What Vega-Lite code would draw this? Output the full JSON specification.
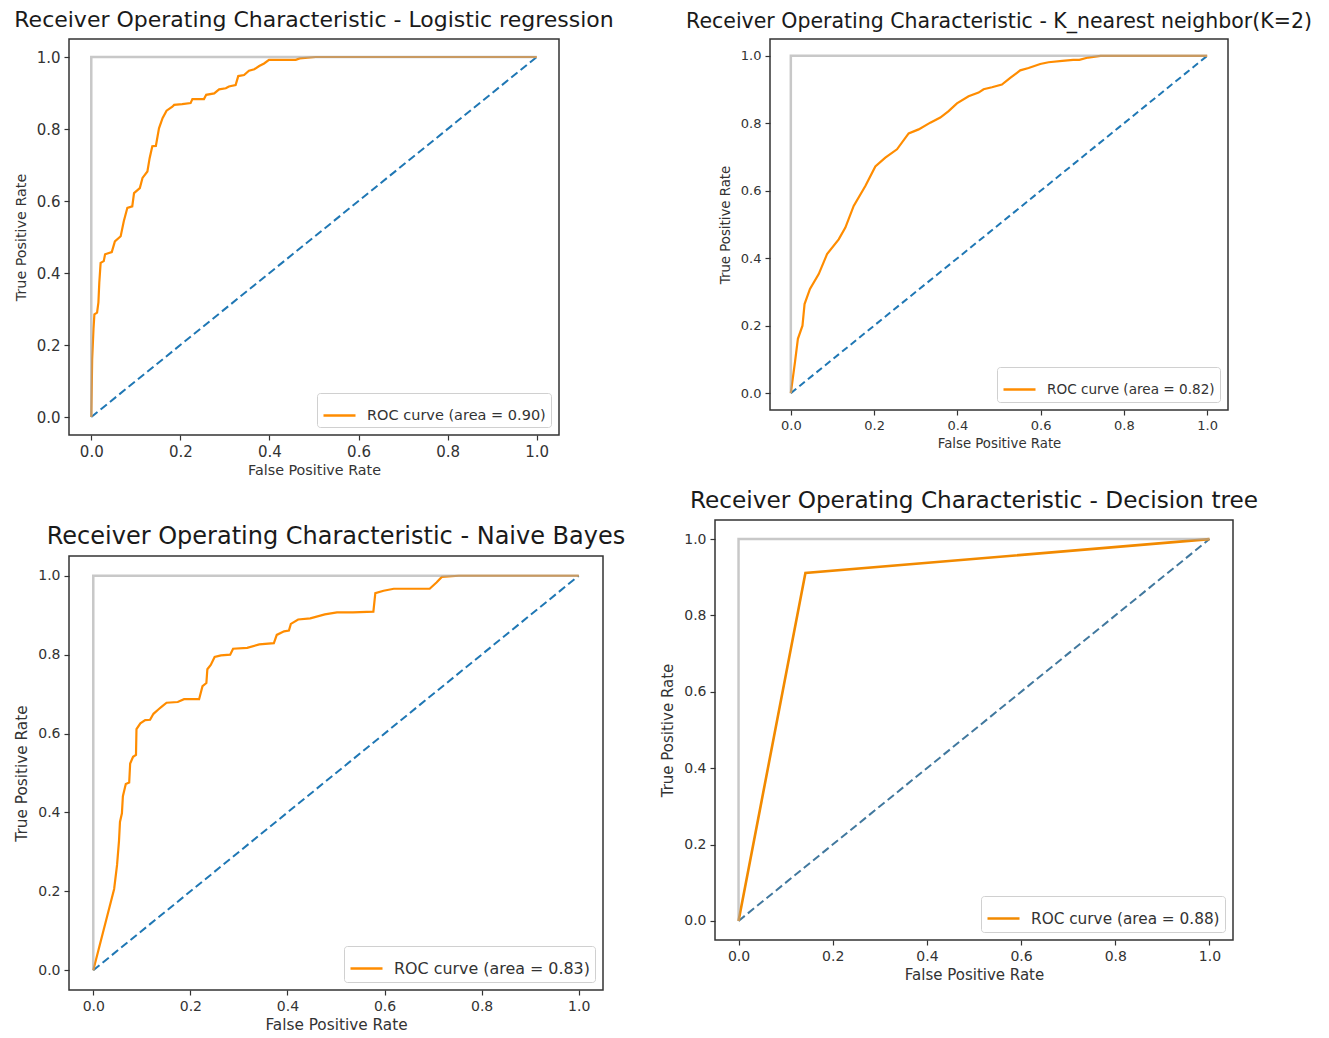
{
  "$schema": "https://vega.github.io/schema/vega-lite/v6.json",
  "background": "white",
  "padding": {"left": 13, "top": 8, "right": 5, "bottom": 5},
  "config": {
    "font": "DejaVu Sans",
    "view": {"stroke": "#333333", "strokeWidth": 1.5},
    "axis": {
      "domain": false, "grid": false, "tickColor": "#333333", "tickSize": 5, "tickWidth": 1.2,
      "labelColor": "#333333", "titleColor": "#333333", "titleFontWeight": "normal",
      "labelFont": "DejaVu Sans", "titleFont": "DejaVu Sans",
      "format": ".1f", "labelFlush": false, "labelOverlap": false, "labelPadding": 4
    },
    "axisX": {"titlePadding": 4},
    "axisY": {"titlePadding": 8},
    "title": {"fontWeight": "normal", "color": "#1a1a1a", "anchor": "middle", "font": "DejaVu Sans", "baseline": "bottom"},
    "legend": {
      "orient": "bottom-right", "offset": 8, "title": null, "symbolType": "stroke", "symbolStrokeWidth": 2.5,
      "symbolSize": 1024, "strokeColor": "#d0d0d0", "fillColor": "white", "padding": 5, "cornerRadius": 3,
      "labelOffset": 10, "labelColor": "#333333", "labelFont": "DejaVu Sans", "labelLimit": 400
    }
  },
  "datasets": {
    "perfect": [{"i": 0, "fpr": 0, "tpr": 0}, {"i": 1, "fpr": 0, "tpr": 1}, {"i": 2, "fpr": 1, "tpr": 1}],
    "chance": [{"i": 0, "fpr": 0, "tpr": 0}, {"i": 1, "fpr": 1, "tpr": 1}],
    "lr": [
      {"i": 0, "fpr": 0, "tpr": 0}, {"i": 1, "fpr": 0.002, "tpr": 0.16}, {"i": 2, "fpr": 0.005, "tpr": 0.245},
      {"i": 3, "fpr": 0.007, "tpr": 0.285}, {"i": 4, "fpr": 0.013, "tpr": 0.29}, {"i": 5, "fpr": 0.016, "tpr": 0.318},
      {"i": 6, "fpr": 0.018, "tpr": 0.373}, {"i": 7, "fpr": 0.021, "tpr": 0.428}, {"i": 8, "fpr": 0.028, "tpr": 0.433},
      {"i": 9, "fpr": 0.031, "tpr": 0.452}, {"i": 10, "fpr": 0.046, "tpr": 0.458}, {"i": 11, "fpr": 0.053, "tpr": 0.488},
      {"i": 12, "fpr": 0.066, "tpr": 0.502}, {"i": 13, "fpr": 0.073, "tpr": 0.544}, {"i": 14, "fpr": 0.081, "tpr": 0.581},
      {"i": 15, "fpr": 0.092, "tpr": 0.585}, {"i": 16, "fpr": 0.096, "tpr": 0.622}, {"i": 17, "fpr": 0.109, "tpr": 0.636},
      {"i": 18, "fpr": 0.115, "tpr": 0.664}, {"i": 19, "fpr": 0.126, "tpr": 0.682}, {"i": 20, "fpr": 0.131, "tpr": 0.719},
      {"i": 21, "fpr": 0.137, "tpr": 0.752}, {"i": 22, "fpr": 0.145, "tpr": 0.753}, {"i": 23, "fpr": 0.152, "tpr": 0.802},
      {"i": 24, "fpr": 0.16, "tpr": 0.83}, {"i": 25, "fpr": 0.169, "tpr": 0.851}, {"i": 26, "fpr": 0.182, "tpr": 0.862},
      {"i": 27, "fpr": 0.186, "tpr": 0.867}, {"i": 28, "fpr": 0.204, "tpr": 0.869}, {"i": 29, "fpr": 0.223, "tpr": 0.872},
      {"i": 30, "fpr": 0.227, "tpr": 0.883}, {"i": 31, "fpr": 0.253, "tpr": 0.883}, {"i": 32, "fpr": 0.258, "tpr": 0.895},
      {"i": 33, "fpr": 0.276, "tpr": 0.899}, {"i": 34, "fpr": 0.287, "tpr": 0.91}, {"i": 35, "fpr": 0.302, "tpr": 0.913},
      {"i": 36, "fpr": 0.309, "tpr": 0.918}, {"i": 37, "fpr": 0.324, "tpr": 0.922}, {"i": 38, "fpr": 0.33, "tpr": 0.947},
      {"i": 39, "fpr": 0.343, "tpr": 0.95}, {"i": 40, "fpr": 0.354, "tpr": 0.962}, {"i": 41, "fpr": 0.366, "tpr": 0.966},
      {"i": 42, "fpr": 0.377, "tpr": 0.975}, {"i": 43, "fpr": 0.388, "tpr": 0.982}, {"i": 44, "fpr": 0.399, "tpr": 0.992},
      {"i": 45, "fpr": 0.459, "tpr": 0.992}, {"i": 46, "fpr": 0.468, "tpr": 0.996}, {"i": 47, "fpr": 0.504, "tpr": 1.0},
      {"i": 48, "fpr": 1.0, "tpr": 1.0}
    ],
    "knn": [
      {"i": 0, "fpr": 0, "tpr": 0}, {"i": 1, "fpr": 0.01, "tpr": 0.092}, {"i": 2, "fpr": 0.017, "tpr": 0.161},
      {"i": 3, "fpr": 0.028, "tpr": 0.2}, {"i": 4, "fpr": 0.033, "tpr": 0.264}, {"i": 5, "fpr": 0.046, "tpr": 0.309},
      {"i": 6, "fpr": 0.067, "tpr": 0.353}, {"i": 7, "fpr": 0.087, "tpr": 0.412}, {"i": 8, "fpr": 0.115, "tpr": 0.456},
      {"i": 9, "fpr": 0.131, "tpr": 0.491}, {"i": 10, "fpr": 0.151, "tpr": 0.555}, {"i": 11, "fpr": 0.179, "tpr": 0.614},
      {"i": 12, "fpr": 0.203, "tpr": 0.672}, {"i": 13, "fpr": 0.227, "tpr": 0.698}, {"i": 14, "fpr": 0.255, "tpr": 0.723},
      {"i": 15, "fpr": 0.283, "tpr": 0.77}, {"i": 16, "fpr": 0.307, "tpr": 0.782}, {"i": 17, "fpr": 0.335, "tpr": 0.802},
      {"i": 18, "fpr": 0.359, "tpr": 0.817}, {"i": 19, "fpr": 0.379, "tpr": 0.836}, {"i": 20, "fpr": 0.399, "tpr": 0.859},
      {"i": 21, "fpr": 0.427, "tpr": 0.88}, {"i": 22, "fpr": 0.451, "tpr": 0.891}, {"i": 23, "fpr": 0.463, "tpr": 0.901},
      {"i": 24, "fpr": 0.483, "tpr": 0.907}, {"i": 25, "fpr": 0.507, "tpr": 0.915}, {"i": 26, "fpr": 0.527, "tpr": 0.935},
      {"i": 27, "fpr": 0.551, "tpr": 0.957}, {"i": 28, "fpr": 0.571, "tpr": 0.964}, {"i": 29, "fpr": 0.599, "tpr": 0.976},
      {"i": 30, "fpr": 0.619, "tpr": 0.981}, {"i": 31, "fpr": 0.652, "tpr": 0.985}, {"i": 32, "fpr": 0.678, "tpr": 0.988},
      {"i": 33, "fpr": 0.693, "tpr": 0.988}, {"i": 34, "fpr": 0.714, "tpr": 0.995}, {"i": 35, "fpr": 0.744, "tpr": 1.0},
      {"i": 36, "fpr": 1.0, "tpr": 1.0}
    ],
    "nb": [
      {"i": 0, "fpr": 0, "tpr": 0}, {"i": 1, "fpr": 0.043, "tpr": 0.206}, {"i": 2, "fpr": 0.049, "tpr": 0.267},
      {"i": 3, "fpr": 0.053, "tpr": 0.328}, {"i": 4, "fpr": 0.055, "tpr": 0.376}, {"i": 5, "fpr": 0.059, "tpr": 0.398},
      {"i": 6, "fpr": 0.061, "tpr": 0.441}, {"i": 7, "fpr": 0.067, "tpr": 0.472}, {"i": 8, "fpr": 0.074, "tpr": 0.476},
      {"i": 9, "fpr": 0.076, "tpr": 0.524}, {"i": 10, "fpr": 0.082, "tpr": 0.541}, {"i": 11, "fpr": 0.088, "tpr": 0.546},
      {"i": 12, "fpr": 0.089, "tpr": 0.611}, {"i": 13, "fpr": 0.097, "tpr": 0.626}, {"i": 14, "fpr": 0.107, "tpr": 0.634},
      {"i": 15, "fpr": 0.117, "tpr": 0.635}, {"i": 16, "fpr": 0.124, "tpr": 0.65}, {"i": 17, "fpr": 0.134, "tpr": 0.661},
      {"i": 18, "fpr": 0.141, "tpr": 0.668}, {"i": 19, "fpr": 0.151, "tpr": 0.678}, {"i": 20, "fpr": 0.174, "tpr": 0.68},
      {"i": 21, "fpr": 0.187, "tpr": 0.687}, {"i": 22, "fpr": 0.218, "tpr": 0.687}, {"i": 23, "fpr": 0.225, "tpr": 0.72},
      {"i": 24, "fpr": 0.233, "tpr": 0.728}, {"i": 25, "fpr": 0.235, "tpr": 0.763}, {"i": 26, "fpr": 0.242, "tpr": 0.774},
      {"i": 27, "fpr": 0.25, "tpr": 0.794}, {"i": 28, "fpr": 0.263, "tpr": 0.798}, {"i": 29, "fpr": 0.282, "tpr": 0.8},
      {"i": 30, "fpr": 0.288, "tpr": 0.815}, {"i": 31, "fpr": 0.317, "tpr": 0.817}, {"i": 32, "fpr": 0.342, "tpr": 0.826},
      {"i": 33, "fpr": 0.372, "tpr": 0.829}, {"i": 34, "fpr": 0.378, "tpr": 0.85}, {"i": 35, "fpr": 0.393, "tpr": 0.859},
      {"i": 36, "fpr": 0.403, "tpr": 0.861}, {"i": 37, "fpr": 0.407, "tpr": 0.878}, {"i": 38, "fpr": 0.422, "tpr": 0.889},
      {"i": 39, "fpr": 0.447, "tpr": 0.892}, {"i": 40, "fpr": 0.477, "tpr": 0.902}, {"i": 41, "fpr": 0.502, "tpr": 0.907},
      {"i": 42, "fpr": 0.535, "tpr": 0.907}, {"i": 43, "fpr": 0.577, "tpr": 0.909}, {"i": 44, "fpr": 0.581, "tpr": 0.956},
      {"i": 45, "fpr": 0.598, "tpr": 0.962}, {"i": 46, "fpr": 0.619, "tpr": 0.967}, {"i": 47, "fpr": 0.693, "tpr": 0.967},
      {"i": 48, "fpr": 0.707, "tpr": 0.983}, {"i": 49, "fpr": 0.718, "tpr": 0.997}, {"i": 50, "fpr": 0.753, "tpr": 1.0},
      {"i": 51, "fpr": 1.0, "tpr": 1.0}
    ],
    "dt": [{"i": 0, "fpr": 0, "tpr": 0}, {"i": 1, "fpr": 0.142, "tpr": 0.911}, {"i": 2, "fpr": 1, "tpr": 1}]
  },
  "spacing": 9,
  "resolve": {"scale": {"color": "independent"}},
  "vconcat": [
    {
      "spacing": 70,
      "resolve": {"scale": {"color": "independent"}},
      "hconcat": [
        {
          "width": 490, "height": 396,
          "title": {"text": "Receiver Operating Characteristic - Logistic regression", "fontSize": 22, "offset": 7},
          "encoding": {
            "x": {"field": "fpr", "type": "quantitative", "scale": {"domain": [-0.05, 1.05], "nice": false, "zero": false},
                  "axis": {"title": "False Positive Rate", "values": [0, 0.2, 0.4, 0.6, 0.8, 1], "labelFontSize": 15, "titleFontSize": 14.3}},
            "y": {"field": "tpr", "type": "quantitative", "scale": {"domain": [-0.05, 1.05], "nice": false, "zero": false},
                  "axis": {"title": "True Positive Rate", "values": [0, 0.2, 0.4, 0.6, 0.8, 1], "labelFontSize": 15, "titleFontSize": 14.3}},
            "order": {"field": "i", "type": "quantitative"}
          },
          "layer": [
            {"data": {"name": "chance"}, "mark": {"type": "line", "color": "#1f77b4", "strokeWidth": 2, "strokeDash": [8, 4]}},
            {"data": {"name": "lr"}, "mark": {"type": "line", "strokeWidth": 2.2},
             "encoding": {"color": {"datum": "ROC curve (area = 0.90)", "scale": {"range": ["#ff8c00"]}, "legend": {"labelFontSize": 14.5}}}},
            {"data": {"name": "perfect"}, "mark": {"type": "line", "color": "#a3a3a3", "strokeWidth": 2.5, "opacity": 0.6}}
          ]
        },
        {
          "width": 458, "height": 371,
          "title": {"text": "Receiver Operating Characteristic - K_nearest neighbor(K=2)", "fontSize": 20.5, "offset": 7},
          "encoding": {
            "x": {"field": "fpr", "type": "quantitative", "scale": {"domain": [-0.05, 1.05], "nice": false, "zero": false},
                  "axis": {"title": "False Positive Rate", "values": [0, 0.2, 0.4, 0.6, 0.8, 1], "labelFontSize": 13, "titleFontSize": 13.3}},
            "y": {"field": "tpr", "type": "quantitative", "scale": {"domain": [-0.05, 1.05], "nice": false, "zero": false},
                  "axis": {"title": "True Positive Rate", "values": [0, 0.2, 0.4, 0.6, 0.8, 1], "labelFontSize": 13, "titleFontSize": 13.3}},
            "order": {"field": "i", "type": "quantitative"}
          },
          "layer": [
            {"data": {"name": "chance"}, "mark": {"type": "line", "color": "#1f77b4", "strokeWidth": 2, "strokeDash": [7, 4]}},
            {"data": {"name": "knn"}, "mark": {"type": "line", "strokeWidth": 2.2},
             "encoding": {"color": {"datum": "ROC curve (area = 0.82)", "scale": {"range": ["#ff8c00"]}, "legend": {"labelFontSize": 13.6}}}},
            {"data": {"name": "perfect"}, "mark": {"type": "line", "color": "#a3a3a3", "strokeWidth": 2.5, "opacity": 0.6}}
          ]
        }
      ]
    },
    {
      "spacing": 33,
      "resolve": {"scale": {"color": "independent"}},
      "hconcat": [
        {
          "spacing": 0,
          "resolve": {"scale": {"color": "independent"}},
          "vconcat": [
            {"width": 1, "height": 4, "view": {"stroke": null}, "data": {"values": []}, "mark": "text", "encoding": {}},
            {
              "width": 534, "height": 434,
              "title": {"text": "Receiver Operating Characteristic - Naive Bayes", "fontSize": 24, "offset": 7},
              "encoding": {
                "x": {"field": "fpr", "type": "quantitative", "scale": {"domain": [-0.05, 1.05], "nice": false, "zero": false},
                      "axis": {"title": "False Positive Rate", "values": [0, 0.2, 0.4, 0.6, 0.8, 1], "labelFontSize": 14, "titleFontSize": 15.3}},
                "y": {"field": "tpr", "type": "quantitative", "scale": {"domain": [-0.05, 1.05], "nice": false, "zero": false},
                      "axis": {"title": "True Positive Rate", "values": [0, 0.2, 0.4, 0.6, 0.8, 1], "labelFontSize": 14, "titleFontSize": 15.3}},
                "order": {"field": "i", "type": "quantitative"}
              },
              "layer": [
                {"data": {"name": "chance"}, "mark": {"type": "line", "color": "#1f77b4", "strokeWidth": 2, "strokeDash": [8, 4]}},
                {"data": {"name": "nb"}, "mark": {"type": "line", "strokeWidth": 2.2},
                 "encoding": {"color": {"datum": "ROC curve (area = 0.83)", "scale": {"range": ["#ff8c00"]}, "legend": {"labelFontSize": 15.9}}}},
                {"data": {"name": "perfect"}, "mark": {"type": "line", "color": "#a3a3a3", "strokeWidth": 2.5, "opacity": 0.6}}
              ]
            }
          ]
        },
        {
          "width": 518, "height": 420,
          "title": {"text": "Receiver Operating Characteristic - Decision tree", "fontSize": 23.2, "offset": 7},
          "encoding": {
            "x": {"field": "fpr", "type": "quantitative", "scale": {"domain": [-0.05, 1.05], "nice": false, "zero": false},
                  "axis": {"title": "False Positive Rate", "values": [0, 0.2, 0.4, 0.6, 0.8, 1], "labelFontSize": 14, "titleFontSize": 15}},
            "y": {"field": "tpr", "type": "quantitative", "scale": {"domain": [-0.05, 1.05], "nice": false, "zero": false},
                  "axis": {"title": "True Positive Rate", "values": [0, 0.2, 0.4, 0.6, 0.8, 1], "labelFontSize": 14, "titleFontSize": 15}},
            "order": {"field": "i", "type": "quantitative"}
          },
          "layer": [
            {"data": {"name": "chance"}, "mark": {"type": "line", "color": "#41789e", "strokeWidth": 2, "strokeDash": [8, 4]}},
            {"data": {"name": "dt"}, "mark": {"type": "line", "strokeWidth": 2.6},
             "encoding": {"color": {"datum": "ROC curve (area = 0.88)", "scale": {"range": ["#f28a00"]}, "legend": {"labelFontSize": 15.3}}}},
            {"data": {"name": "perfect"}, "mark": {"type": "line", "color": "#a3a3a3", "strokeWidth": 2.5, "opacity": 0.6}}
          ]
        }
      ]
    }
  ]
}
